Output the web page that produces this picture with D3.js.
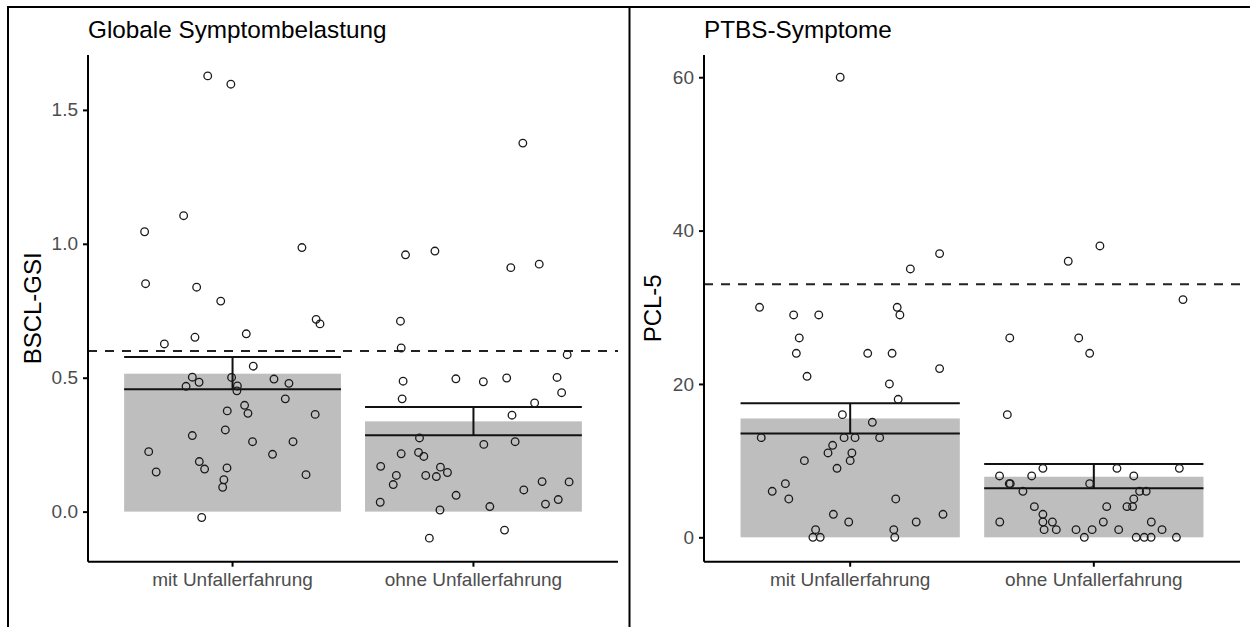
<!DOCTYPE html>
<html>
<head>
<meta charset="utf-8">
<script src="https://cdn.jsdelivr.net/npm/d3@7"></script>
<style>
  body { margin: 0; background: #fff; }
  svg { display: block; font-family: "Liberation Sans", Arial, sans-serif; }
</style>
</head>
<body>
<div id="chart"></div>
<script>
// DATA
// ================================================================================== //

const groups = ["mit Unfallerfahrung", "ohne Unfallerfahrung"];

// BSCL-GSI: bar means and error bar limits per group
const gsiMeans = [0.515, 0.337];
const gsiLow = [0.457, 0.285];
const gsiHigh = [0.577, 0.391];
const gsiCutoff = 0.6;
const gsiTicks = [0.0, 0.5, 1.0, 1.5];

// individual points: [horizontal jitter (category units), value]
const gsiMit = [[-0.103,1.627],[-0.007,1.596],[-0.203,1.105],[-0.365,1.045],[0.288,0.986],[-0.361,0.851],[-0.149,0.838],[-0.049,0.786],[0.347,0.718],[0.363,0.701],[0.057,0.664],[-0.156,0.651],[-0.283,0.626],[0.086,0.543],[-0.167,0.502],[-0.004,0.501],[0.172,0.495],[-0.139,0.483],[0.234,0.479],[-0.193,0.468],[0.02,0.469],[0.018,0.451],[0.219,0.421],[-0.022,0.376],[0.05,0.397],[0.064,0.367],[0.343,0.363],[-0.03,0.305],[-0.167,0.284],[0.083,0.261],[0.251,0.261],[-0.348,0.224],[0.166,0.214],[-0.138,0.187],[-0.116,0.159],[-0.023,0.163],[-0.317,0.148],[0.305,0.138],[-0.036,0.119],[-0.041,0.091],[-0.128,-0.022]];
const gsiOhne = [[0.205,1.376],[-0.282,0.959],[-0.16,0.973],[0.155,0.911],[0.273,0.924],[-0.303,0.711],[-0.30,0.611],[0.389,0.586],[-0.292,0.487],[-0.073,0.496],[0.041,0.485],[0.138,0.499],[0.347,0.501],[0.366,0.444],[-0.296,0.421],[0.254,0.406],[0.16,0.36],[-0.224,0.275],[0.043,0.251],[0.173,0.261],[-0.30,0.216],[-0.228,0.221],[-0.206,0.206],[-0.385,0.169],[-0.137,0.166],[-0.108,0.146],[-0.32,0.135],[-0.198,0.135],[-0.154,0.131],[-0.333,0.101],[0.285,0.112],[0.397,0.111],[0.209,0.081],[-0.072,0.061],[-0.387,0.035],[0.352,0.045],[0.299,0.028],[0.068,0.019],[-0.139,0.006],[0.129,-0.069],[-0.183,-0.099]];

// PCL-5
const pclMeans = [15.5, 7.9];
const pclLow = [13.55, 6.39];
const pclHigh = [17.5, 9.56];
const pclCutoff = 33;
const pclTicks = [0, 20, 40, 60];

const pclMit = [[-0.041,60],[0.247,35],[0.367,37],[-0.372,30],[-0.232,29],[-0.129,29],[0.193,30],[0.204,29],[-0.209,26],[-0.221,24],[0.072,24],[0.172,24],[0.367,22],[-0.177,21],[0.161,20],[0.197,18],[-0.032,16],[0.091,15],[-0.365,13],[-0.025,13],[0.02,13],[0.121,13],[-0.072,12],[-0.091,11],[0.007,11],[0.0,10],[-0.188,10],[-0.054,9],[-0.266,7],[-0.32,6],[-0.252,5],[0.187,5],[-0.069,3],[0.381,3],[-0.006,2],[0.271,2],[-0.142,1],[0.179,1],[-0.153,0],[-0.123,0],[0.183,0]];
const pclOhne = [[-0.105,36],[0.025,38],[0.366,31],[-0.345,26],[-0.062,26],[-0.017,24],[-0.355,16],[-0.209,9],[0.095,9],[0.351,9],[-0.387,8],[-0.255,8],[0.164,8],[-0.347,7],[-0.343,7],[-0.017,7],[-0.291,6],[0.188,6],[0.215,6],[0.164,5],[0.159,4],[0.136,4],[0.053,4],[-0.244,4],[-0.209,3],[-0.386,2],[-0.209,2],[-0.17,2],[0.039,2],[0.236,2],[-0.204,1],[-0.154,1],[-0.073,1],[-0.007,1],[0.102,1],[0.28,1],[-0.039,0],[0.174,0],[0.207,0],[0.235,0],[0.339,0]];

// ================================================================================== //
// DATA END

const width = 1250
const height = 627

const svg = d3.select("#chart")
    .append("svg")
    .attr("width", width)
    .attr("height", height)
    .attr("viewBox", [0, 0, width, height]);

// outer frame of the figure (top, left and the divider between panels)
const frame = svg.append("g").attr("stroke", "#000").attr("stroke-width", 2);
frame.append("line").attr("x1", 7).attr("x2", width).attr("y1", 7).attr("y2", 7);
frame.append("line").attr("x1", 8).attr("x2", 8).attr("y1", 6).attr("y2", height);
frame.append("line").attr("x1", 629.5).attr("x2", 629.5).attr("y1", 6).attr("y2", height);

const drawPanel = (opts) => {
    const { left, right, top, bottom, yDomain, ticks, tickFmt, title, yTitle, yTitleX,
            means, low, high, cutoff, points } = opts;

    const x = d3.scaleBand()
        .domain(groups)
        .range([left, right])
        .paddingInner(0.1)
        .paddingOuter(0.15);
    const step = x.step();
    const cx = g => x(g) + x.bandwidth() / 2;

    const y = d3.scaleLinear()
        .domain(yDomain)
        .range([bottom, top]);

    const g = svg.append("g");

    // bars
    g.selectAll(".bar")
        .data(groups)
        .join("rect")
        .attr("x", d => x(d))
        .attr("width", x.bandwidth())
        .attr("y", (d, i) => y(means[i]))
        .attr("height", (d, i) => y(0) - y(means[i]))
        .attr("fill", "#bebebe");

    // cutoff line
    g.append("line")
        .attr("x1", left).attr("x2", right)
        .attr("y1", y(cutoff)).attr("y2", y(cutoff))
        .attr("stroke", "#222")
        .attr("stroke-width", 2)
        .attr("stroke-dasharray", "9,8");

    // error bars
    const eb = g.selectAll(".eb")
        .data(groups)
        .join("g")
        .attr("stroke", "#111")
        .attr("stroke-width", 2);
    eb.append("line")
        .attr("x1", d => x(d)).attr("x2", d => x(d) + x.bandwidth())
        .attr("y1", (d, i) => y(high[i])).attr("y2", (d, i) => y(high[i]));
    eb.append("line")
        .attr("x1", d => x(d)).attr("x2", d => x(d) + x.bandwidth())
        .attr("y1", (d, i) => y(low[i])).attr("y2", (d, i) => y(low[i]));
    eb.append("line")
        .attr("x1", d => cx(d)).attr("x2", d => cx(d))
        .attr("y1", (d, i) => y(low[i])).attr("y2", (d, i) => y(high[i]));

    // jittered points
    groups.forEach((grp, i) => {
        g.append("g")
            .selectAll("circle")
            .data(points[i])
            .join("circle")
            .attr("cx", d => cx(grp) + d[0] * step)
            .attr("cy", d => y(d[1]))
            .attr("r", 3.8)
            .attr("fill", "none")
            .attr("stroke", "#1a1a1a")
            .attr("stroke-width", 1.3);
    });

    // axes
    const yAxis = g.append("g")
        .attr("transform", `translate(${left},0)`)
        .call(d3.axisLeft(y).tickValues(ticks).tickFormat(tickFmt).tickSize(5).tickPadding(5).tickSizeOuter(0));
    yAxis.select(".domain").attr("d", `M0,${top}V${bottom}`);

    const xAxis = g.append("g")
        .attr("transform", `translate(0,${bottom})`)
        .call(d3.axisBottom(x).tickSize(5).tickPadding(6).tickSizeOuter(0));
    xAxis.select(".domain").attr("d", `M${left},0H${right}`);

    g.selectAll(".domain, .tick line")
        .attr("stroke", "#000")
        .attr("stroke-width", 2);
    g.selectAll(".tick text")
        .attr("fill", "#4d4d4d")
        .attr("font-size", 19)
        .attr("font-family", "Liberation Sans, Arial, sans-serif");

    // titles
    svg.append("text")
        .attr("x", left)
        .attr("y", 38)
        .attr("font-size", 24.3)
        .attr("fill", "#000")
        .text(title);

    svg.append("text")
        .attr("transform", `translate(${yTitleX},${(top + bottom) / 2}) rotate(-90)`)
        .attr("text-anchor", "middle")
        .attr("font-size", 24)
        .attr("fill", "#000")
        .text(yTitle);
}

drawPanel({
    left: 88, right: 618, top: 55, bottom: 561.7,
    yDomain: [-0.187, 1.705],
    ticks: gsiTicks,
    tickFmt: d3.format(".1f"),
    title: "Globale Symptombelastung",
    yTitle: "BSCL-GSI",
    yTitleX: 41,
    means: gsiMeans, low: gsiLow, high: gsiHigh, cutoff: gsiCutoff,
    points: [gsiMit, gsiOhne]
});

drawPanel({
    left: 704, right: 1240, top: 55, bottom: 561.7,
    yDomain: [-3.18, 62.9],
    ticks: pclTicks,
    tickFmt: d3.format("d"),
    title: "PTBS-Symptome",
    yTitle: "PCL-5",
    yTitleX: 661,
    means: pclMeans, low: pclLow, high: pclHigh, cutoff: pclCutoff,
    points: [pclMit, pclOhne]
});
</script>
</body>
</html>
